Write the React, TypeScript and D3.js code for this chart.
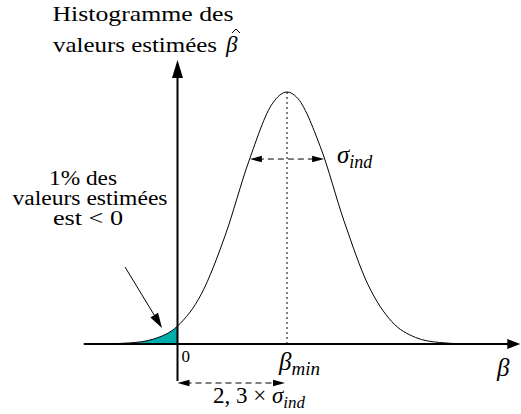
import React from "react";
import * as d3 from "d3";

// Curve sample points (x in units of sigma_ind, y as fraction of peak)
const curveX = [-1.8, -1.5, -1.0, -0.5, 0, 0.5, 1.0, 1.5, 2.0, 2.3, 2.5, 3.0, 3.5, 4.0, 4.5, 5.0, 5.5, 6.0, 6.5, 7.0];
const curveY = [0.0002, 0.0007, 0.0043, 0.0198, 0.071, 0.198, 0.43, 0.726, 0.956, 1.0, 0.98, 0.783, 0.487, 0.236, 0.089, 0.026, 0.006, 0.001, 0.0001, 0.0];
const betaMin = 2.3;
const sigmaHalf = 0.78; // half width of sigma arrows (data units)
const sigmaLevel = 0.734; // height of sigma arrows (fraction of peak)
const axisXMin = -1.97;
const axisXMax = 7.2;
const axisYMin = -0.147;
const axisYMax = 1.127;
const tickLabels = ["0"];

const W = 521;
const H = 414;
const FONT = "'Liberation Serif', serif";

export default function App() {
  const x = d3.scaleLinear().domain([0, betaMin]).range([177.5, 287]);
  const y = d3.scaleLinear().domain([0, 1]).range([344, 92]);
  const pts: [number, number][] = curveX.map((v, i) => [v, curveY[i]]);
  const line = d3
    .line<[number, number]>()
    .x((d) => x(d[0]))
    .y((d) => y(d[1]))
    .curve(d3.curveMonotoneX);
  const area = d3
    .area<[number, number]>()
    .x((d) => x(d[0]))
    .y0(y(0))
    .y1((d) => y(d[1]))
    .curve(d3.curveMonotoneX);

  const x0 = x(0);
  const y0 = y(0);
  const xEnd = x(axisXMax);
  const yTop = y(axisYMax);

  const arrowHead = (tx: number, ty: number, dx: number, dy: number, len: number, hw: number) => {
    const n = Math.hypot(dx, dy);
    const ux = dx / n, uy = dy / n;
    const bx = tx - ux * len, by = ty - uy * len;
    const px = -uy * hw, py = ux * hw;
    return `M${tx},${ty}L${bx + px},${by + py}L${bx - px},${by - py}Z`;
  };

  const sy = y(sigmaLevel);
  const sxl = x(betaMin - sigmaHalf);
  const sxr = x(betaMin + sigmaHalf);
  const by2 = 383;
  const bxr = x(betaMin) - 2;

  return (
    <svg width={W} height={H} style={{ position: "absolute", left: 0, top: 0, background: "#fff", fontFamily: FONT }}>
      <defs>
        <clipPath id="neg">
          <rect x={0} y={0} width={x0} height={H} />
        </clipPath>
      </defs>
      {/* teal area */}
      <path d={area(pts) || ""} fill="#00adad" clipPath="url(#neg)" />
      {/* curve */}
      <path d={line(pts) || ""} fill="none" stroke="#000" strokeWidth={1} />
      {/* x axis */}
      <line x1={x(axisXMin)} y1={y0} x2={xEnd - 8} y2={y0} stroke="#000" strokeWidth={2} />
      <path d={arrowHead(xEnd, y0, 1, 0, 13, 5)} fill="#000" />
      {/* y axis */}
      <line x1={x0} y1={y(axisYMin)} x2={x0} y2={yTop + 8} stroke="#000" strokeWidth={2} />
      <path d={arrowHead(x0, yTop, 0, -1, 18, 5.5)} fill="#000" />
      {/* dotted line at beta_min */}
      <line x1={x(betaMin)} y1={y(1)} x2={x(betaMin)} y2={y0} stroke="#000" strokeWidth={1} strokeDasharray="2,3" />
      {/* sigma arrows */}
      <line x1={sxl + 8} y1={sy} x2={sxr - 8} y2={sy} stroke="#000" strokeWidth={1} strokeDasharray="6,4" />
      <path d={arrowHead(sxl, sy, -1, 0, 12, 3.2)} fill="#000" />
      <path d={arrowHead(sxr, sy, 1, 0, 12, 3.2)} fill="#000" />
      <text x={337} y={163} fontSize={25} fontStyle="italic">
        σ<tspan fontSize={18} dy={5}>ind</tspan>
      </text>
      {/* bottom dashed arrow */}
      <line x1={x0 + 8} y1={by2} x2={bxr - 8} y2={by2} stroke="#000" strokeWidth={1} strokeDasharray="6,4" />
      <path d={arrowHead(x0, by2, -1, 0, 12, 3.2)} fill="#000" />
      <path d={arrowHead(bxr, by2, 1, 0, 12, 3.2)} fill="#000" />
      <text x={259} y={403} fontSize={23} textAnchor="middle">
        2, 3 × <tspan fontStyle="italic">σ</tspan>
        <tspan fontStyle="italic" fontSize={17} dy={5}>ind</tspan>
      </text>
      {/* tick label */}
      <text x={x0 + 4} y={362} fontSize={17}>{tickLabels[0]}</text>
      {/* beta_min */}
      <text x={279} y={370} fontSize={25} fontStyle="italic">
        β<tspan fontSize={19} dy={5}>min</tspan>
      </text>
      {/* beta axis label */}
      <text x={497} y={376} fontSize={25} fontStyle="italic">β</text>
      {/* title */}
      <text x={143} y={21} fontSize={21} textAnchor="middle" textLength={181} lengthAdjust="spacingAndGlyphs">Histogramme des</text>
      <text x={53} y={52} fontSize={21} textLength={164} lengthAdjust="spacingAndGlyphs">valeurs estimées</text>
      <text x={226} y={52} fontSize={23} fontStyle="italic">β</text>
      <path d="M232,33 L236,29 L240,33" fill="none" stroke="#000" strokeWidth={1} />
      {/* annotation */}
      <text x={83} y={185} fontSize={20} textAnchor="middle" textLength={68} lengthAdjust="spacingAndGlyphs">1% des</text>
      <text x={90} y={205} fontSize={20} textAnchor="middle" textLength={155} lengthAdjust="spacingAndGlyphs">valeurs estimées</text>
      <text x={88} y={225} fontSize={20} textAnchor="middle" textLength={70} lengthAdjust="spacingAndGlyphs">est &lt; 0</text>
      <line x1={125} y1={267} x2={156} y2={318} stroke="#000" strokeWidth={1} />
      <path d={arrowHead(162, 328, 37, 61, 15, 4.5)} fill="#000" />
    </svg>
  );
}
